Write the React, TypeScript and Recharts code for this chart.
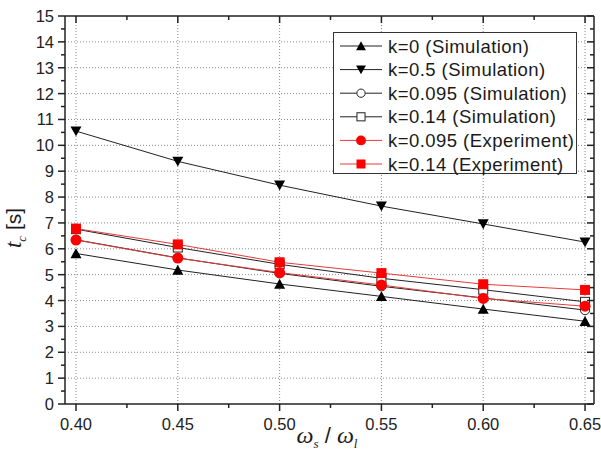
import React from 'react';
import { LineChart, Line, XAxis, YAxis, CartesianGrid, Legend } from 'recharts';

// omega_s / omega_l
const ratio = [0.4, 0.45, 0.5, 0.55, 0.6, 0.65];

// t_c [s]
const simK0 = [5.82, 5.18, 4.64, 4.16, 3.67, 3.2];
const simK05 = [10.55, 9.38, 8.46, 7.65, 6.96, 6.26];
const simK0095 = [6.35, 5.65, 5.05, 4.55, 4.1, 3.63];
const simK014 = [6.76, 6.05, 5.4, 4.86, 4.42, 3.95];
const expK0095 = [6.34, 5.64, 5.08, 4.6, 4.08, 3.78];
const expK014 = [6.78, 6.17, 5.48, 5.06, 4.63, 4.41];

const xTicks = [0.4, 0.425, 0.45, 0.475, 0.5, 0.525, 0.55, 0.575, 0.6, 0.625, 0.65];
const xLabels = ['0.40', '0.45', '0.50', '0.55', '0.60', '0.65'];
const yTicks = [
  0, 0.5, 1, 1.5, 2, 2.5, 3, 3.5, 4, 4.5, 5, 5.5, 6, 6.5, 7, 7.5,
  8, 8.5, 9, 9.5, 10, 10.5, 11, 11.5, 12, 12.5, 13, 13.5, 14, 14.5, 15,
];
const yGrid = [1, 2, 3, 4, 5, 6, 7, 8, 9, 10, 11, 12, 13, 14];

const data = ratio.map((r, i) => ({
  r,
  simK0: simK0[i],
  simK05: simK05[i],
  simK0095: simK0095[i],
  simK014: simK014[i],
  expK0095: expK0095[i],
  expK014: expK014[i],
}));

const RED = '#ff0000';

const series = [
  { key: 'simK0', name: 'k=0 (Simulation)', line: '#222', shape: 'triUp', fill: '#000' },
  { key: 'simK05', name: 'k=0.5 (Simulation)', line: '#222', shape: 'triDown', fill: '#000' },
  { key: 'simK0095', name: 'k=0.095 (Simulation)', line: '#222', shape: 'circleOpen', fill: '#fff' },
  { key: 'simK014', name: 'k=0.14 (Simulation)', line: '#222', shape: 'squareOpen', fill: '#fff' },
  { key: 'expK0095', name: 'k=0.095 (Experiment)', line: '#e83a3a', shape: 'circle', fill: RED },
  { key: 'expK014', name: 'k=0.14 (Experiment)', line: '#e83a3a', shape: 'square', fill: RED },
];

const PL = 65;
const PR = 594;
const PT = 16;
const PB = 404;
const FRAME = '#222';
const SANS = '"Liberation Sans", Arial, sans-serif';
const SERIF = '"Liberation Serif", "Times New Roman", serif';

function Marker({ shape, cx, cy, fill, scale = 1 }: any) {
  const h = 5.5 * scale;
  if (shape === 'triUp')
    return <polygon points={`${cx - h},${cy + h * 0.85} ${cx + h},${cy + h * 0.85} ${cx},${cy - h * 0.95}`} fill={fill} />;
  if (shape === 'triDown')
    return <polygon points={`${cx - h},${cy - h * 0.85} ${cx + h},${cy - h * 0.85} ${cx},${cy + h * 0.95}`} fill={fill} />;
  if (shape === 'circleOpen')
    return <circle cx={cx} cy={cy} r={4.6 * scale} fill="#fff" stroke="#222" strokeWidth={1} />;
  if (shape === 'squareOpen')
    return <rect x={cx - 4.5 * scale} y={cy - 4.5 * scale} width={9 * scale} height={9 * scale} fill="#fff" stroke="#222" strokeWidth={1} />;
  if (shape === 'circle') return <circle cx={cx} cy={cy} r={5.5 * scale} fill={fill} />;
  return <rect x={cx - 5 * scale} y={cy - 5 * scale} width={10 * scale} height={10 * scale} fill={fill} />;
}

const dotFor = (shape: string, fill: string) => (props: any) =>
  <Marker key={`${shape}-${props.index}`} shape={shape} cx={props.cx} cy={props.cy} fill={fill} />;

const isMajorX = (v: number) => xLabels.includes(v.toFixed(2)) && Math.round(v * 1000) % 50 === 0;

function BottomTick(props: any) {
  const v = props.payload.value;
  const x = props.x;
  const major = isMajorX(v);
  return (
    <g>
      <line x1={x} x2={x} y1={PB} y2={PB + (major ? 7 : 4)} stroke={FRAME} strokeWidth={1.5} />
      {major && (
        <text x={x} y={PB + 20} textAnchor="middle" dominantBaseline="central" fontSize={16.5} fontFamily={SANS} fill="#222">
          {v.toFixed(2)}
        </text>
      )}
    </g>
  );
}

function TopTick(props: any) {
  const v = props.payload.value;
  const x = props.x;
  const major = isMajorX(v);
  return <line x1={x} x2={x} y1={PT} y2={PT + (major ? 7 : 4)} stroke={FRAME} strokeWidth={1.5} />;
}

function LeftTick(props: any) {
  const v = props.payload.value;
  const y = props.y;
  const major = Number.isInteger(v);
  return (
    <g>
      <line x1={PL - (major ? 7 : 4)} x2={PL} y1={y} y2={y} stroke={FRAME} strokeWidth={1.5} />
      {major && (
        <text x={PL - 11} y={y} textAnchor="end" dominantBaseline="central" fontSize={16.5} fontFamily={SANS} fill="#222">
          {v}
        </text>
      )}
    </g>
  );
}

function RightTick(props: any) {
  const v = props.payload.value;
  const y = props.y;
  const major = Number.isInteger(v);
  return <line x1={PR - (major ? 7 : 4)} x2={PR} y1={y} y2={y} stroke={FRAME} strokeWidth={1.5} />;
}

function LegendBox({ payload }: any) {
  const items = series
    .map((s) => ({ s, p: (payload || []).find((p: any) => p.dataKey === s.key) }))
    .filter((o) => o.p);
  return (
    <svg width={246} height={144} style={{ display: 'block' }}>
      <rect x={0.5} y={0.5} width={243} height={141} fill="#fff" stroke="#333" strokeWidth={1} />
      {items.map(({ s, p }, i) => {
        const y = 14 + i * 23.6;
        return (
          <g key={s.key}>
            <line x1={7} x2={49} y1={y} y2={y} stroke={s.line} strokeWidth={1} />
            <Marker shape={s.shape} cx={28} cy={y} fill={s.fill} scale={0.9} />
            <text x={55} y={y} dominantBaseline="central" fontSize={18.5} letterSpacing={0.45} fontFamily={SANS} fill="#1a1a1a">
              {p.value}
            </text>
          </g>
        );
      })}
    </svg>
  );
}

export default function App() {
  return (
    <div style={{ position: 'absolute', left: 0, top: 0, width: 601, height: 457, background: '#fff' }}>
      <LineChart width={601} height={457} data={data} margin={{ top: 15, right: 6, bottom: 13, left: 24 }}>
        <CartesianGrid
          stroke="#8a8a8a"
          strokeDasharray="1 2"
          verticalValues={ratio}
          horizontalValues={yGrid}
        />
        <XAxis
          dataKey="r"
          type="number"
          domain={[0.3946, 0.6544]}
          ticks={xTicks}
          interval={0}
          height={40}
          allowDataOverflow
          axisLine={{ stroke: FRAME, strokeWidth: 1.5 }}
          tickLine={false}
          tick={<BottomTick />}
        />
        <XAxis
          xAxisId="top"
          orientation="top"
          dataKey="r"
          type="number"
          domain={[0.3946, 0.6544]}
          ticks={xTicks}
          interval={0}
          height={1}
          allowDataOverflow
          axisLine={{ stroke: FRAME, strokeWidth: 1.5 }}
          tickLine={false}
          tick={<TopTick />}
        />
        <YAxis
          type="number"
          domain={[0, 15]}
          ticks={yTicks}
          interval={0}
          width={41}
          allowDataOverflow
          axisLine={{ stroke: FRAME, strokeWidth: 1.5 }}
          tickLine={false}
          tick={<LeftTick />}
        />
        <YAxis
          yAxisId="right"
          orientation="right"
          type="number"
          domain={[0, 15]}
          ticks={yTicks}
          interval={0}
          width={1}
          allowDataOverflow
          axisLine={{ stroke: FRAME, strokeWidth: 1.5 }}
          tickLine={false}
          tick={<RightTick />}
        />
        {series.map((s) => (
          <Line
            key={s.key}
            dataKey={s.key}
            name={s.name}
            stroke={s.line}
            strokeWidth={1}
            dot={dotFor(s.shape, s.fill)}
            activeDot={false}
            isAnimationActive={false}
          />
        ))}
        <Legend
          layout="horizontal"
          verticalAlign="middle"
          align="center"
          content={<LegendBox />}
          wrapperStyle={{ position: 'absolute', left: 333, top: 32, width: 246, height: 144 }}
        />
        <text
          transform="translate(21, 228) rotate(-90)"
          textAnchor="middle"
          fontSize={21}
          fill="#1a1a1a"
        >
          <tspan fontFamily={SERIF} fontStyle="italic" fontSize={23}>t</tspan>
          <tspan fontFamily={SERIF} fontStyle="italic" fontSize={13} dy={5}>c</tspan>
          <tspan fontFamily={SANS} dy={-5}> [s]</tspan>
        </text>
        <text x={327} y={443} textAnchor="middle" fontSize={22} fill="#1a1a1a">
          <tspan fontFamily={SERIF} fontStyle="italic" fontSize={24}>ω</tspan>
          <tspan fontFamily={SERIF} fontStyle="italic" fontSize={13} dy={5}>s</tspan>
          <tspan fontFamily={SANS} dy={-5}> / </tspan>
          <tspan fontFamily={SERIF} fontStyle="italic" fontSize={24}>ω</tspan>
          <tspan fontFamily={SERIF} fontStyle="italic" fontSize={13} dy={5}>l</tspan>
        </text>
      </LineChart>
    </div>
  );
}
